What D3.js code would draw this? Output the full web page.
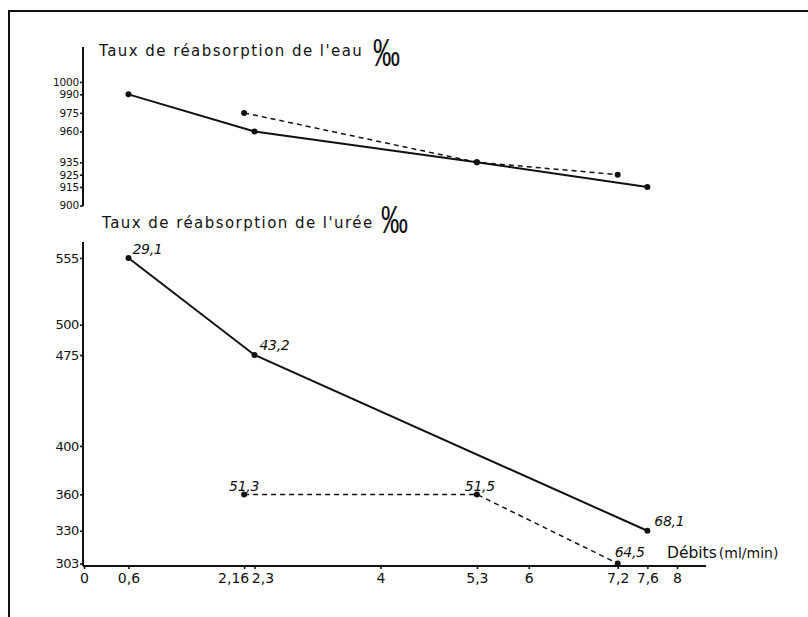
<!DOCTYPE html>
<html>
<head>
<meta charset="utf-8">
<script src="https://cdn.jsdelivr.net/npm/d3@7/dist/d3.min.js"></script>
<style>
  html, body { margin: 0; padding: 0; background: #fff; }
  svg { display: block; }
  text { fill: #111; }
</style>
</head>
<body>
<svg id="chart" width="808" height="617"></svg>
<script>
// Flow rates (ml/min) marked on the shared horizontal axis
const flowTicks = [0, 0.6, 2.16, 2.3, 4, 5.3, 6, 7.2, 7.6, 8];

// Water reabsorption rate (‰)
const waterTicks = [1000, 990, 975, 960, 935, 925, 915, 900];
const waterSolidFlow = [0.6, 2.3, 5.3, 7.6];
const waterSolidRate = [990, 960, 935, 915];
const waterDashedFlow = [2.16, 5.3, 7.2];
const waterDashedRate = [975, 935, 925];

// Urea reabsorption rate (‰) with the value noted beside each point
const ureaTicks = [555, 500, 475, 400, 360, 330, 303];
const ureaSolidFlow = [0.6, 2.3, 7.6];
const ureaSolidRate = [555, 475, 330];
const ureaSolidNote = ["29,1", "43,2", "68,1"];
const ureaDashedFlow = [2.16, 5.3, 7.2];
const ureaDashedRate = [360, 360, 303];
const ureaDashedNote = ["51,3", "51,5", "64,5"];

const svg = d3.select("#chart");
const FONT = "'DejaVu Sans', sans-serif";

const x = d3.scaleLinear().domain([0, 8]).range([84, 677]);
const yW = d3.scaleLinear().domain([900, 1000]).range([205.5, 82]);
const yU = d3.scaleLinear().domain([303, 555]).range([563.5, 258]);

const axisX = 83, baseY = 566;

// Page frame
svg.append("path")
  .attr("d", "M9,617 L9,11 L808,11")
  .attr("fill", "none").attr("stroke", "#111").attr("stroke-width", 2);

// Vertical axis lines
svg.append("line").attr("x1", axisX).attr("x2", axisX).attr("y1", 47).attr("y2", 206)
  .attr("stroke", "#111").attr("stroke-width", 2);
svg.append("line").attr("x1", axisX).attr("x2", axisX).attr("y1", 242).attr("y2", baseY)
  .attr("stroke", "#111").attr("stroke-width", 2);
// Horizontal axis line
svg.append("line").attr("x1", axisX).attr("x2", 706).attr("y1", baseY).attr("y2", baseY)
  .attr("stroke", "#111").attr("stroke-width", 2);

function styleAxis(g, size, family) {
  g.select(".domain").remove();
  g.selectAll(".tick line").attr("stroke", "#111").attr("stroke-width", 1.6);
  g.selectAll(".tick text").attr("fill", "#111")
    .style("font-family", family).style("font-size", size + "px");
}

const fmt = d => String(d).replace(".", ",");

svg.append("g").attr("transform", `translate(${axisX},0)`)
  .call(d3.axisLeft(yW).tickValues(waterTicks).tickSize(3).tickPadding(1).tickFormat(fmt))
  .call(g => styleAxis(g, 10.5, FONT))
  .selectAll(".tick text").attr("letter-spacing", "-0.2");

svg.append("g").attr("transform", `translate(${axisX},0)`)
  .call(d3.axisLeft(yU).tickValues(ureaTicks).tickSize(3).tickPadding(1).tickFormat(fmt))
  .call(g => styleAxis(g, 13, FONT))
  .selectAll(".tick text").attr("letter-spacing", "-0.4");

const xAxisG = svg.append("g").attr("transform", `translate(0,${baseY})`)
  .call(d3.axisBottom(x).tickValues(flowTicks).tickSize(3).tickPadding(4).tickFormat(fmt))
  .call(g => styleAxis(g, 14, FONT));
// Spread the two crowded labels apart
xAxisG.selectAll(".tick text")
  .attr("dx", d => d === 2.16 ? -11 : d === 2.3 ? 8 : 0);

// Titles
function title(tx, ty, str) {
  svg.append("text").attr("x", tx).attr("y", ty)
    .style("font-family", FONT).style("font-size", "15px")
    .attr("letter-spacing", "1.45").text(str);
}
title(99, 56, "Taux de réabsorption de l'eau");
title(102, 228, "Taux de réabsorption de l'urée");

// Per-mille sign, stretched tall like the hand lettering
function permille(px, py) {
  svg.append("text")
    .attr("transform", `translate(${px},${py}) scale(1,1.45)`)
    .style("font-family", "'Liberation Sans', sans-serif").style("font-size", "27px")
    .text("‰");
}
permille(373, 66);
permille(381, 233);

svg.append("text").attr("x", 667).attr("y", 558)
  .style("font-family", FONT).style("font-size", "15.5px")
  .html("Débits<tspan font-size='14px' dx='2'>(ml/min)</tspan>");

// Series
function series(flows, rates, yScale, dashed) {
  const pts = flows.map((f, i) => [x(f), yScale(rates[i])]);
  svg.append("path")
    .attr("d", d3.line()(pts))
    .attr("fill", "none").attr("stroke", "#111")
    .attr("stroke-width", dashed ? 1.5 : 2)
    .attr("stroke-dasharray", dashed ? "5,4" : null);
  svg.append("g").selectAll("circle").data(pts).join("circle")
    .attr("cx", d => d[0]).attr("cy", d => d[1]).attr("r", 3).attr("fill", "#111");
  return pts;
}

series(waterSolidFlow, waterSolidRate, yW, false);
series(waterDashedFlow, waterDashedRate, yW, true);
const us = series(ureaSolidFlow, ureaSolidRate, yU, false);
const ud = series(ureaDashedFlow, ureaDashedRate, yU, true);

function notes(pts, labels, offsets) {
  svg.append("g").selectAll("text").data(pts).join("text")
    .attr("x", (d, i) => d[0] + offsets[i][0])
    .attr("y", (d, i) => d[1] + offsets[i][1])
    .style("font-family", FONT).style("font-size", "14px").style("font-style", "italic")
    .attr("letter-spacing", "-0.3")
    .text((d, i) => labels[i]);
}
notes(us, ureaSolidNote, [[4, -4], [5, -5], [7, -5]]);
notes(ud, ureaDashedNote, [[-15, -3], [-12, -3], [-3, -7]]);
</script>
</body>
</html>
